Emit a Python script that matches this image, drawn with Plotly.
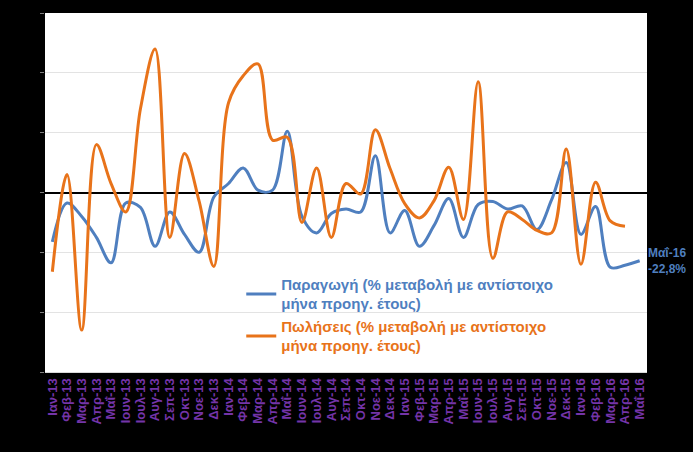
import plotly.graph_objects as go

months = ["Ιαν-13","Φεβ-13","Μαρ-13","Απρ-13","Μαΐ-13","Ιουν-13","Ιουλ-13","Αυγ-13","Σεπ-13","Οκτ-13","Νοε-13","Δεκ-13",
          "Ιαν-14","Φεβ-14","Μαρ-14","Απρ-14","Μαΐ-14","Ιουν-14","Ιουλ-14","Αυγ-14","Σεπ-14","Οκτ-14","Νοε-14","Δεκ-14",
          "Ιαν-15","Φεβ-15","Μαρ-15","Απρ-15","Μαΐ-15","Ιουν-15","Ιουλ-15","Αυγ-15","Σεπ-15","Οκτ-15","Νοε-15","Δεκ-15",
          "Ιαν-16","Φεβ-16","Μαρ-16","Απρ-16","Μαΐ-16"]

production = [-16.5, -3.5, -8.0, -15.0, -23.5, -3.5, -5.0, -18.0, -6.5, -14.0, -20.0, -1.5,
              3.0, 8.2, 0.8, 0.8, 20.5, -8.0, -13.5, -7.0, -5.5, -6.5, 12.3, -13.5,
              -6.0, -18.0, -11.0, -2.0, -15.0, -4.0, -3.0, -5.5, -4.5, -12.4, -2.5, 10.0,
              -14.0, -4.7, -25.0, -24.3, -22.8]

sales = [-26.5, 6.0, -46.0, 16.0, 3.0, -6.5, 28.0, 48.0, -15.0, 13.0, -3.0, -24.7,
         30.0, 39.0, 43.0, 17.5, 18.5, -10.0, 8.2, -15.0, 3.0, -0.5, 21.0, 8.0,
         -3.7, -8.5, -2.7, 8.4, -9.0, 37.0, -22.0, -6.5, -9.0, -12.7, -13.5, 14.5,
         -24.0, 3.4, -9.5, -11.3, None]

blue = "#4F7FBF"
orange = "#E8731A"
purple = "#7434A8"

label_prod = "Παραγωγή (% μεταβολή με αντίστοιχο<br>μήνα προηγ. έτους)"
label_sales = "Πωλήσεις (% μεταβολή με αντίστοιχο<br>μήνα προηγ. έτους)"
name_prod = '<span style="color:' + blue + '"><b>' + label_prod + '</b></span>'
name_sales = '<span style="color:' + orange + '"><b>' + label_sales + '</b></span>'

fig = go.Figure()
fig.add_trace(go.Scatter(x=months, y=production, mode="lines", name=name_prod,
                         line=dict(color=blue, width=3, shape="spline", smoothing=1)))
fig.add_trace(go.Scatter(x=months, y=sales, mode="lines", name=name_sales,
                         line=dict(color=orange, width=3, shape="spline", smoothing=1)))

fig.add_annotation(x=months[-1], y=production[-1], xref="x", yref="y",
                   text="<b>Μαΐ-16<br>-22,8%</b>", showarrow=False, xshift=27,
                   font=dict(color=blue, size=12, family="Liberation Sans"), align="center")

fig.update_layout(
    width=693, height=452,
    paper_bgcolor="black", plot_bgcolor="white",
    margin=dict(l=45, r=46, t=13, b=80, autoexpand=False),
    font=dict(family="Liberation Sans"),
    showlegend=True,
    legend=dict(x=0.326, y=0.29, xanchor="left", yanchor="top",
                bgcolor="rgba(0,0,0,0)", font=dict(size=15, family="Liberation Sans"),
                itemwidth=30, tracegroupgap=10),
    xaxis=dict(type="category", range=[-0.5, 40.5], tickangle=-90, dtick=1,
               tickfont=dict(color=purple, size=13, family="Liberation Sans", weight="bold"),
               showgrid=False, showline=True, linecolor="#d9d9d9", linewidth=1,
               ticks="", automargin=False),
    yaxis=dict(range=[-60, 60], dtick=20, showgrid=True, gridcolor="#e3e3e3", gridwidth=1,
               zeroline=True, zerolinecolor="black", zerolinewidth=2,
               ticks="outside", ticklen=4, tickcolor="#7f7f7f", automargin=False,
               tickfont=dict(color="black", size=12), showline=False),
)

fig.write_html("out.html", config={"displayModeBar": False},
               post_script="document.body.style.margin='0';document.body.style.background='black';")
